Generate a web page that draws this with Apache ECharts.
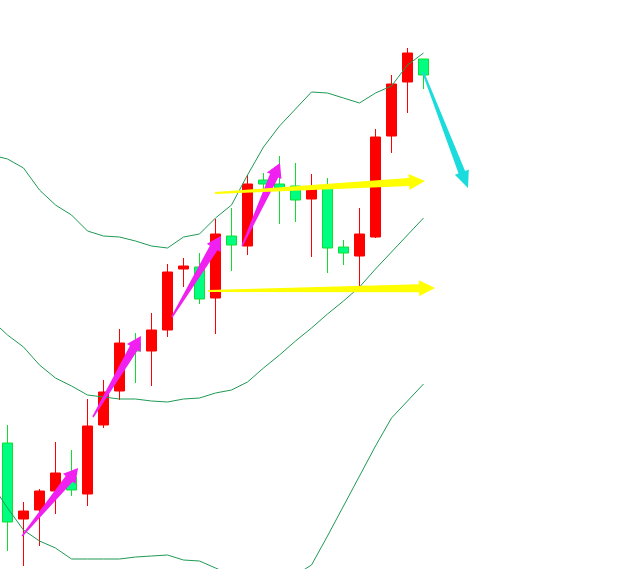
<!DOCTYPE html>
<html>
<head>
<meta charset="utf-8">
<script src="https://cdn.jsdelivr.net/npm/echarts@6/dist/echarts.min.js"></script>
<style>
html,body{margin:0;padding:0;background:#ffffff;}
#chart{width:628px;height:569px;}
</style>
</head>
<body>
<div id="chart"></div>
<script>
// ---- data ----
const categories = ['b00','b01','b02','b03','b04','b05','b06','b07','b08','b09',
  'b10','b11','b12','b13','b14','b15','b16','b17','b18','b19',
  'b20','b21','b22','b23','b24','b25','b26','b27','b28','b29',
  'b30','b31','b32','b33','b34','b35','b36','b37','b38','b39'];

// index 0 has only indicator values (candle off-screen)
const opens  = [null,1.1126,1.1050,1.1059,1.1078,1.1092,1.1075,1.1144,1.1178,1.1226,1.1218,1.1239,1.1300,1.1302,1.1271,1.1333,1.1323,1.1389,1.1385,1.1383,1.1370,1.1381,1.1322,1.1313,1.1332,1.1433,1.1487,1.1510];
const closes = [null,1.1047,1.1058,1.1078,1.1096,1.1079,1.1143,1.1177,1.1226,1.1218,1.1239,1.1297,1.1303,1.1270,1.1335,1.1324,1.1385,1.1385,1.1381,1.1369,1.1381,1.1321,1.1316,1.1335,1.1432,1.1485,1.1516,1.1494];
const lows   = [null,1.1018,1.1003,1.1023,1.1055,1.1073,1.1063,1.1141,1.1169,1.1186,1.1183,1.1232,1.1282,1.1265,1.1235,1.1298,1.1314,1.1379,1.1345,1.1347,1.1312,1.1296,1.1304,1.1281,1.1331,1.1416,1.1456,1.1480];
const highs  = [null,1.1144,1.1067,1.1080,1.1127,1.1119,1.1170,1.1189,1.1240,1.1236,1.1256,1.1305,1.1311,1.1316,1.1350,1.1361,1.1394,1.1396,1.1413,1.1406,1.1395,1.1391,1.1329,1.1361,1.1440,1.1494,1.1521,1.1510];

const bandUpper  = [1.1414,1.1410,1.1401,1.1379,1.1364,1.1354,1.1338,1.1333,1.1332,1.1328,1.1323,1.1321,1.1332,1.1335,1.1351,1.1364,1.1394,1.1422,1.1443,1.1460,1.1477,1.1476,1.1471,1.1466,1.1476,1.1483,1.1504,1.1516];
const bandMiddle = [1.1249,1.1234,1.1222,1.1204,1.1191,1.1183,1.1174,1.1172,1.1170,1.1170,1.1168,1.1167,1.1170,1.1171,1.1176,1.1179,1.1187,1.1201,1.1214,1.1228,1.1241,1.1255,1.1268,1.1282,1.1300,1.1317,1.1334,1.1351];
const bandLower  = [1.1085,1.1061,1.1039,1.1028,1.1021,1.1010,1.1010,1.1010,1.1010,1.1012,1.1013,1.1014,1.1009,1.1008,1.1001,1.0994,1.0980,1.0980,1.0985,1.0994,1.1004,1.1033,1.1063,1.1093,1.1123,1.1151,1.1168,1.1185];

// arrows: [barIndexStart, priceStart, barIndexEnd, priceEnd]
const magentaArrows = [
  [1.91,1.1033, 5.41,1.1101],
  [6.34,1.1152, 9.34,1.1233],
  [11.28,1.1252, 14.34,1.1333],
  [15.66,1.1323, 18.03,1.1406]
];
const yellowArrows = [
  [13.97,1.1376, 27.09,1.1388],
  [13.53,1.1278, 27.72,1.1281]
];
const cyanArrows = [
  [26.97,1.1497, 29.78,1.1381]
];

// ---- build ----
const candleData = opens.map((o, i) => o === null ? '-' : [o, closes[i], lows[i], highs[i]]);

function arrowSeries(data, color, tailW, shaftW, headW, headLen) {
  return {
    type: 'custom',
    xAxisIndex: 1,
    yAxisIndex: 0,
    clip: false,
    silent: true,
    z: 10,
    encode: { x: [0, 2], y: [1, 3] },
    data: data,
    renderItem: function (params, api) {
      const a = api.coord([api.value(0), api.value(1)]);
      const b = api.coord([api.value(2), api.value(3)]);
      const dx = b[0] - a[0], dy = b[1] - a[1];
      const len = Math.sqrt(dx * dx + dy * dy);
      const ux = dx / len, uy = dy / len;
      const nx = -uy, ny = ux;
      const bx = b[0] - ux * headLen, by = b[1] - uy * headLen;
      const pts = [
        [a[0] + nx * tailW / 2, a[1] + ny * tailW / 2],
        [bx + nx * shaftW / 2, by + ny * shaftW / 2],
        [bx + nx * headW / 2, by + ny * headW / 2],
        [b[0], b[1]],
        [bx - nx * headW / 2, by - ny * headW / 2],
        [bx - nx * shaftW / 2, by - ny * shaftW / 2],
        [a[0] - nx * tailW / 2, a[1] - ny * tailW / 2]
      ];
      return { type: 'polygon', shape: { points: pts }, style: { fill: color, stroke: null } };
    }
  };
}

const bandStyle = { color: '#1f9a55', width: 1 };
function bandSeries(values) {
  return {
    type: 'line', data: values, symbol: 'none', z: 5, silent: true,
    lineStyle: bandStyle, itemStyle: { color: '#1f9a55' }
  };
}

const chart = echarts.init(document.getElementById('chart'), null, { renderer: 'canvas' });
chart.setOption({
  animation: false,
  backgroundColor: '#ffffff',
  grid: { left: -16.5, top: 0, width: 640, height: 569, containLabel: false, outerBoundsMode: 'none' },
  xAxis: [
    { type: 'category', data: categories, show: false, boundaryGap: true },
    { type: 'value', min: -0.5, max: 39.5, show: false }
  ],
  yAxis: [
    { type: 'value', min: 1.1000, max: 1.1569, show: false, splitLine: { show: false } }
  ],
  series: [
    {
      type: 'candlestick',
      data: candleData,
      barWidth: 11,
      z: 2,
      itemStyle: {
        color: '#ff0000', color0: '#00ff80',
        borderColor: '#ff0000', borderColor0: '#10dd30',
        borderWidth: 1
      }
    },
    bandSeries(bandUpper),
    bandSeries(bandMiddle),
    bandSeries(bandLower),
    arrowSeries(magentaArrows, '#f020f0', 1.5, 9, 16, 14),
    arrowSeries(yellowArrows, '#ffff00', 2, 8, 16, 16),
    arrowSeries(cyanArrows, '#1adcdc', 2, 7, 15, 17)
  ]
});
</script>
</body>
</html>
